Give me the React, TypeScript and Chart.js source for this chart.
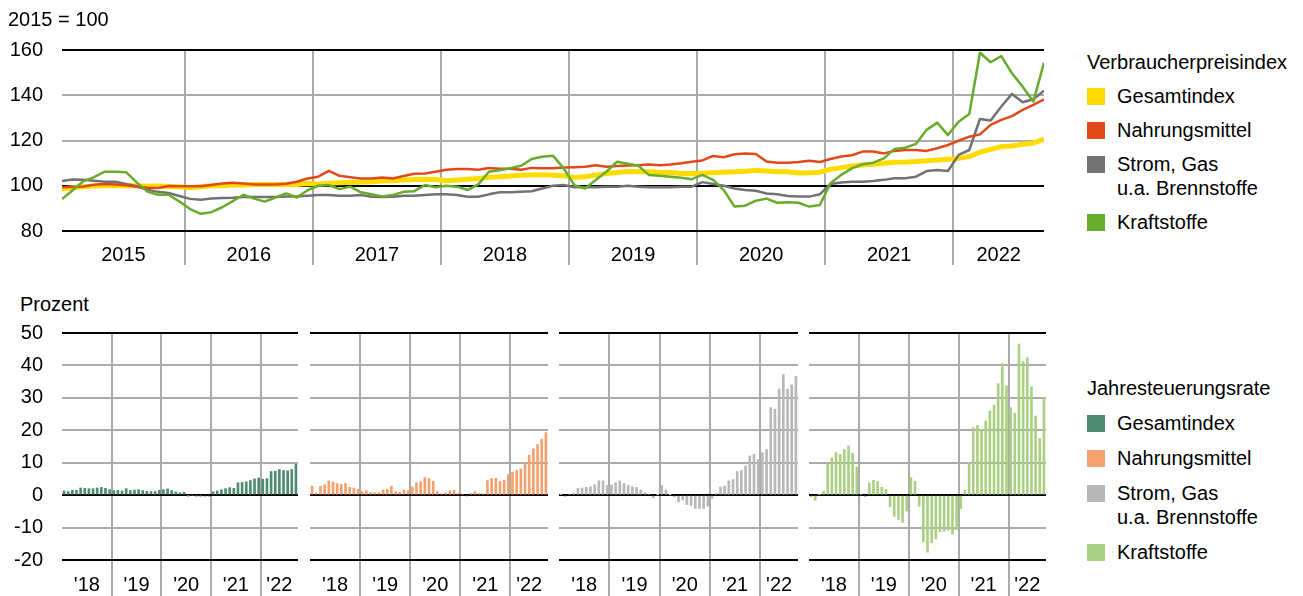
import React, { useEffect, useRef } from 'react';
import { Chart, registerables } from 'chart.js';

Chart.register(...registerables);

const FONT = "'Liberation Sans', Arial, Helvetica, sans-serif";

// ---------- Data: Verbraucherpreisindex (2015 = 100), Jan 2015 - Sep 2022 ----------
const indexYears = ['2015', '2016', '2017', '2018', '2019', '2020', '2021', '2022'];
const indexMonthsPerYear = [12, 12, 12, 12, 12, 12, 12, 9];
const indexTicks = [80, 100, 120, 140, 160];

const gesamtindex = [
  98.5, 99.1, 99.6, 99.9, 100.0, 100.0, 100.0, 100.0, 99.8, 99.9, 99.7, 99.6,
  99.1, 99.6, 100.0, 100.0, 100.3, 100.3, 100.6, 100.6, 100.6, 100.6, 100.6, 101.0,
  100.8, 101.1, 101.3, 101.4, 101.6, 101.8, 102.1, 102.2, 102.5, 102.8, 102.9, 102.8,
  102.2, 102.5, 102.9, 103.2, 103.7, 104.0, 104.3, 104.6, 104.7, 104.9, 104.6, 104.4,
  103.7, 104.0, 104.7, 105.4, 105.9, 106.3, 106.2, 106.2, 105.9, 105.9, 105.4, 105.4,
  105.5, 105.8, 106.0, 106.2, 106.4, 106.8, 106.5, 106.2, 106.2, 105.6, 105.8, 106.0,
  107.3, 108.0, 108.7, 109.2, 109.5, 109.9, 110.4, 110.4, 110.7, 111.0, 111.4, 111.7,
  112.1, 112.9, 114.8, 116.1, 117.3, 117.6, 118.3, 118.8, 120.8,
];
const nahrungsmittel = [
  99.3, 99.5, 99.7, 100.4, 100.8, 100.6, 100.2, 99.6, 99.1, 99.0, 99.9, 99.8,
  99.8, 99.8, 100.3, 101.0, 101.3, 101.0, 100.6, 100.6, 100.6, 100.9, 101.8, 103.2,
  104.0, 106.6, 104.4, 103.8, 103.2, 103.2, 103.6, 103.2, 104.3, 105.3, 105.4, 106.2,
  107.1, 107.4, 107.4, 107.1, 107.8, 107.5, 107.5, 107.1, 107.9, 107.7, 107.7, 108.1,
  108.2, 108.4, 109.1, 108.4, 108.7, 109.0, 109.1, 109.4, 109.1, 109.4, 109.9, 110.6,
  111.2, 113.2, 112.6, 113.9, 114.3, 114.0, 110.7, 110.2, 110.2, 110.5, 111.1, 110.5,
  111.8, 112.9, 113.5, 115.1, 115.1, 114.3, 115.4, 115.8, 115.8, 115.4, 116.6, 118.0,
  119.9, 121.7, 122.7, 126.9, 129.1, 130.8, 133.5, 135.7, 138.2,
];
const stromGas = [
  102.1, 102.8, 102.6, 102.2, 101.8, 101.8, 100.8, 99.8, 98.2, 97.3, 96.8, 95.5,
  94.2, 93.8, 94.4, 94.6, 94.7, 95.0, 95.0, 95.0, 95.0, 95.3, 95.3, 95.6,
  95.9, 95.9, 95.6, 95.6, 95.9, 95.1, 95.0, 95.1, 95.6, 95.6, 95.9, 96.2,
  96.2, 95.9, 95.1, 95.1, 96.2, 97.1, 97.1, 97.3, 97.6, 98.8, 100.0, 100.3,
  99.3, 99.3, 99.3, 99.6, 99.6, 100.0, 99.6, 99.3, 99.3, 99.3, 99.6, 99.6,
  101.6, 100.8, 100.0, 98.8, 98.1, 97.8, 96.6, 96.2, 95.5, 95.2, 95.2, 96.2,
  100.8, 101.4, 101.8, 101.8, 102.1, 102.6, 103.3, 103.3, 104.0, 106.5, 107.0, 106.5,
  113.6, 115.8, 129.5, 128.8, 135.0, 140.6, 136.9, 138.2, 142.0,
];
const kraftstoffe = [
  94.1, 98.0, 102.0, 103.8, 106.2, 106.2, 106.0, 101.5, 97.4, 96.0, 96.0, 93.0,
  89.7, 87.6, 88.3, 90.5, 93.2, 96.0, 94.3, 93.0, 94.8, 96.6, 94.8, 98.0,
  100.0, 100.3, 98.5, 99.6, 97.1, 96.2, 95.3, 95.9, 97.3, 97.6, 100.3, 99.3,
  100.0, 99.6, 98.1, 100.6, 106.2, 106.9, 107.7, 108.8, 111.8, 112.8, 113.3, 107.7,
  100.3, 98.8, 102.5, 106.2, 110.6, 109.7, 108.8, 104.7, 104.4, 104.0, 103.5, 102.9,
  104.8, 102.6, 98.1, 90.8, 91.2, 93.4, 94.3, 92.5, 92.7, 92.5, 90.8, 91.5,
  101.1, 104.8, 107.7, 109.5, 110.2, 112.1, 116.3, 116.8, 118.5, 124.7, 127.9, 122.4,
  128.3, 131.7, 158.8, 154.6, 157.3, 149.7, 143.8, 137.2, 154.4,
];

// ---------- Data: Jahresteuerungsrate (Prozent), Jan 2018 - Sep 2022 ----------
const rateYears = ["'18", "'19", "'20", "'21", "'22"];
const rateMonthsPerYear = [12, 12, 12, 12, 9];
const rateTicks = [-20, -10, 0, 10, 20, 30, 40, 50];

const rateGesamtindex = [
  1.3, 1.1, 1.5, 1.5, 2.2, 2.1, 2.0, 2.0, 2.2, 2.4, 2.1, 1.7,
  1.4, 1.5, 1.3, 2.0, 1.4, 1.6, 1.7, 1.4, 1.2, 1.1, 1.1, 1.5,
  1.7, 1.9, 1.4, 1.0, 0.7, 0.9, -0.1, 0.0, -0.2, -0.2, -0.3, -0.3,
  1.0, 1.3, 1.7, 2.0, 2.3, 2.1, 3.8, 3.9, 4.1, 4.5, 5.0, 5.3,
  4.9, 5.1, 7.3, 7.4, 7.9, 7.6, 7.5, 7.9, 9.5,
];
const rateNahrungsmittel = [
  2.8, 0.7, 2.7, 3.2, 4.4, 4.0, 3.6, 3.3, 3.6, 2.4, 2.2, 1.8,
  1.1, 1.4, 0.8, 0.8, 0.8, 1.6, 1.8, 2.8, 1.1, 0.9, 1.6, 1.4,
  2.5, 3.8, 4.1, 5.4, 5.1, 4.3, 1.1, 0.4, 0.7, 1.3, 1.5, 0.5,
  0.3, -0.3, 0.5, 1.1, 0.5, 0.4, 4.5, 5.1, 5.2, 4.2, 4.6, 6.4,
  7.1, 7.6, 8.1, 10.0, 12.3, 14.3, 15.6, 17.2, 19.3,
];
const rateStromGas = [
  0.2, -0.4, 0.3, 0.5, 2.1, 2.2, 2.4, 2.6, 3.2, 4.4, 4.4, 3.0,
  3.2, 3.8, 4.4, 3.6, 3.0, 2.6, 2.4, 1.6, 0.8, 0.3, -0.8, 0.1,
  3.0, 1.6, 0.1, -0.5, -2.1, -1.5, -2.9, -3.2, -4.1, -4.1, -4.1, -3.4,
  -1.0, 0.5, 2.5, 2.8, 4.4, 4.8, 7.3, 7.6, 9.0, 12.1, 12.6, 11.0,
  13.1, 14.1, 27.0, 26.5, 32.7, 37.2, 32.7, 34.0, 36.6,
];
const rateKraftstoffe = [
  -0.5, -1.6, 0.2, 1.2, 9.5, 11.5, 13.1, 12.6, 14.1, 15.2, 12.9, 8.7,
  0.3, -0.5, 3.8, 4.6, 4.2, 2.4, 1.8, -3.6, -6.5, -7.5, -8.4, -4.9,
  5.4, 4.3, -3.4, -14.4, -17.6, -14.7, -13.5, -11.3, -11.1, -10.8, -12.0, -10.6,
  -4.2, 1.5, 10.0, 20.8, 21.5, 20.3, 22.9, 26.0, 27.7, 34.4, 40.6, 33.7,
  27.0, 25.3, 46.6, 41.2, 42.4, 33.4, 24.4, 17.5, 30.1,
];

const seriesLabels = ['Gesamtindex', 'Nahrungsmittel', ['Strom, Gas', 'u.a. Brennstoffe'], 'Kraftstoffe'];

// ---------- Styles ----------
const LINE_COLORS = ['#FFDC00', '#E1491A', '#727272', '#67AC2B'];
const BAR_COLORS = ['#4E8B6F', '#F3A26F', '#B8B8B8', '#A9D083'];
const GRID = '#ABABAB';
const BLACK = '#000000';
const CLEAR = 'rgba(0,0,0,0)';

const toXY = (arr: number[]) => arr.map((v, i) => ({ x: i, y: v }));

function xScale(counts: number[], labels: string[], min: number, max: number, tickLength: number, padding: number, height: number) {
  const bounds: number[] = [];
  const centers: number[] = [];
  let start = 0;
  counts.forEach((c, k) => {
    const lo = Math.max(min, start - 0.5);
    const hi = Math.min(max, start + c - 0.5);
    centers.push((lo + hi) / 2);
    if (k > 0) bounds.push(start - 0.5);
    start += c;
  });
  const all = [...bounds, ...centers].sort((a, b) => a - b);
  return {
    type: 'linear',
    min,
    max,
    bounds: 'data',
    offset: false,
    afterBuildTicks: (axis: any) => {
      axis.ticks = all.map((v) => ({ value: v }));
    },
    afterFit: (axis: any) => {
      axis.height = height;
    },
    border: { display: false },
    grid: {
      offset: false,
      drawTicks: true,
      tickLength,
      lineWidth: 2,
      color: (ctx: any) => (ctx.tick && bounds.includes(ctx.tick.value) ? GRID : CLEAR),
    },
    ticks: {
      autoSkip: false,
      maxRotation: 0,
      minRotation: 0,
      padding,
      color: BLACK,
      font: { family: FONT, size: 20 },
      callback: (v: number) => {
        const k = centers.indexOf(v);
        return k >= 0 ? labels[k] : '';
      },
    },
  };
}

function yScale(min: number, max: number, ticks: number[], blackAt: number[], showLabels: boolean, width: number) {
  return {
    type: 'linear',
    min,
    max,
    afterBuildTicks: (axis: any) => {
      axis.ticks = ticks.map((v) => ({ value: v }));
    },
    afterFit: (axis: any) => {
      axis.width = width;
    },
    border: { display: false },
    grid: {
      drawTicks: false,
      lineWidth: 2,
      color: (ctx: any) => (ctx.tick && blackAt.includes(ctx.tick.value) ? BLACK : GRID),
    },
    ticks: {
      display: showLabels,
      padding: 19,
      color: BLACK,
      font: { family: FONT, size: 20 },
      callback: (v: number) => String(v),
    },
  };
}

function topConfig(): any {
  const series = [gesamtindex, nahrungsmittel, stromGas, kraftstoffe];
  const orders = [3, 1, 2, 0];
  return {
    type: 'line',
    data: {
      datasets: series.map((s, k) => ({
        label: Array.isArray(seriesLabels[k]) ? (seriesLabels[k] as string[]).join(' ') : seriesLabels[k],
        data: toXY(s),
        borderColor: LINE_COLORS[k],
        backgroundColor: LINE_COLORS[k],
        borderWidth: k === 0 ? 5 : 2.5,
        order: orders[k],
        pointRadius: 0,
        tension: 0,
        fill: false,
        borderJoinStyle: 'round',
      })),
    },
    options: {
      responsive: false,
      maintainAspectRatio: false,
      animation: false,
      events: [],
      layout: { padding: { left: 8, right: 16, top: 0, bottom: 0 } },
      plugins: {
        legend: { display: false },
        tooltip: { enabled: false },
        title: {
          display: true,
          text: '2015 = 100',
          align: 'start',
          color: BLACK,
          font: { family: FONT, size: 20, weight: 'normal' },
          padding: { top: 8, bottom: 18 },
        },
      },
      scales: {
        x: xScale(indexMonthsPerYear, indexYears, 0, 92, 34, -22, 35),
        y: yScale(80, 160, indexTicks, [80, 100, 160], true, 54),
      },
    },
  };
}

function barConfig(k: number, values: number[], first: boolean): any {
  return {
    type: 'bar',
    data: {
      datasets: [
        {
          label: Array.isArray(seriesLabels[k]) ? (seriesLabels[k] as string[]).join(' ') : seriesLabels[k],
          data: toXY(values),
          backgroundColor: BAR_COLORS[k],
          borderWidth: 0,
          barThickness: 2,
        },
      ],
    },
    options: {
      responsive: false,
      maintainAspectRatio: false,
      animation: false,
      events: [],
      layout: { padding: first ? { left: 0, right: 7, top: 43, bottom: 0 } : { left: 0, right: 0, top: 43, bottom: 0 } },
      plugins: {
        legend: { display: false },
        tooltip: { enabled: false },
      },
      scales: {
        x: xScale(rateMonthsPerYear, rateYears, -0.5, 56.5, 36, -23, 36),
        y: yScale(-20, 50, rateTicks, [-20, 0, 50], first, first ? 62 : 0),
      },
    },
  };
}

function ChartCanvas({ make, left, top, width, height }: { make: () => any; left: number; top: number; width: number; height: number }) {
  const ref = useRef<HTMLCanvasElement>(null);
  useEffect(() => {
    const chart = new Chart(ref.current as HTMLCanvasElement, make());
    return () => chart.destroy();
  }, []);
  return (
    <canvas
      ref={ref}
      width={width}
      height={height}
      style={{ position: 'absolute', left, top, width, height, display: 'block' }}
    />
  );
}

function Legend({ title, colors, titleY, step }: { title: string; colors: string[]; titleY: number; step: number }) {
  const lineH = 25;
  const left = 1087;
  const centers: number[] = [];
  let y = titleY;
  seriesLabels.forEach((lab) => {
    y += step;
    centers.push(y);
    if (Array.isArray(lab)) y += (lab.length - 1) * 24;
  });
  return (
    <>
      <div style={{ position: 'absolute', left, top: titleY - lineH / 2, lineHeight: `${lineH}px`, fontSize: 20, whiteSpace: 'nowrap' }}>
        {title}
      </div>
      {seriesLabels.map((lab, i) => (
        <React.Fragment key={i}>
          <div style={{ position: 'absolute', left, top: centers[i] - 8.5, width: 18, height: 17, background: colors[i] }} />
          <div style={{ position: 'absolute', left: 1117, top: centers[i] - lineH / 2, lineHeight: `${Array.isArray(lab) ? 24 : lineH}px`, fontSize: 20, whiteSpace: 'nowrap' }}>
            {Array.isArray(lab) ? lab.map((l, j) => <div key={j}>{l}</div>) : lab}
          </div>
        </React.Fragment>
      ))}
    </>
  );
}

export default function App() {
  const rates = [rateGesamtindex, rateNahrungsmittel, rateStromGas, rateKraftstoffe];
  const panels = [
    { left: 0, width: 305 },
    { left: 310, width: 238 },
    { left: 559, width: 239 },
    { left: 809, width: 237 },
  ];
  return (
    <div style={{ position: 'absolute', left: 0, top: 0, width: 1303, height: 596, background: '#fff', fontFamily: FONT, color: '#000', overflow: 'hidden' }}>
      <ChartCanvas make={topConfig} left={0} top={0} width={1060} height={266} />
      <div style={{ position: 'absolute', left: 20, top: 304 - 12.5, lineHeight: '25px', fontSize: 20, whiteSpace: 'nowrap' }}>Prozent</div>
      {panels.map((p, k) => (
        <ChartCanvas key={k} make={() => barConfig(k, rates[k], k === 0)} left={p.left} top={290} width={p.width} height={306} />
      ))}
      <Legend title="Verbraucherpreisindex" colors={LINE_COLORS} titleY={62} step={34} />
      <Legend title="Jahresteuerungsrate" colors={BAR_COLORS} titleY={388} step={35} />
    </div>
  );
}
